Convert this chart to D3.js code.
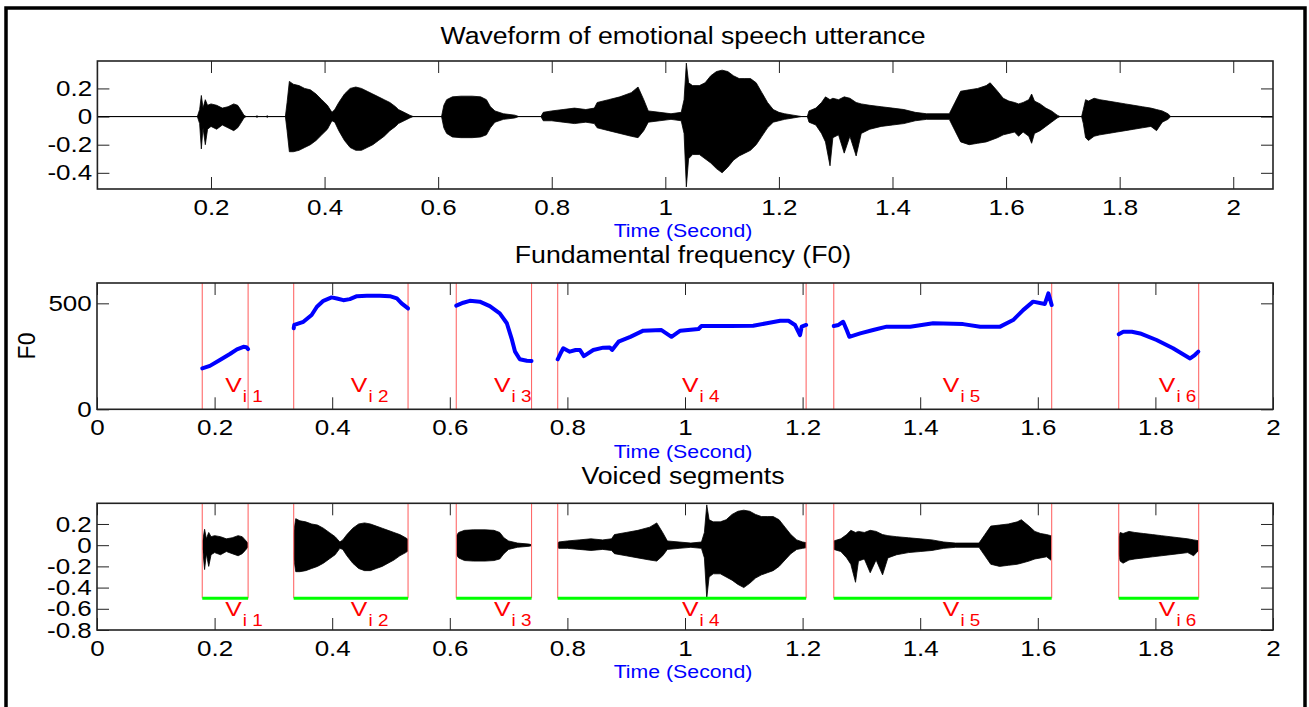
<!DOCTYPE html>
<html>
<head>
<meta charset="utf-8">
<script src="https://cdn.jsdelivr.net/npm/d3@7"></script>
<style>
body { margin: 0; background: #fff; }
svg { display: block; font-family: "Liberation Sans", Arial, sans-serif; }
</style>
</head>
<body>
<svg width="1309" height="707"></svg>
<script>
// voiced segment boundaries (seconds)
var segStart = [0.179, 0.3345, 0.611, 0.7835, 1.253, 1.7376]
var segEnd = [0.257, 0.529, 0.739, 1.206, 1.6236, 1.8736]
var segNames = ["1", "2", "3", "4", "5", "6"]

// F0 contour per segment: [time, Hz]
var f0Seg1 = [[0.179,193],[0.192,205],[0.209,233],[0.226,261],[0.238,283],[0.249,295],[0.254,293],[0.257,284]]
var f0Seg2 = [[0.3345,382],[0.3355,398],[0.351,413],[0.365,445],[0.374,484],[0.385,512],[0.399,528],[0.408,523],[0.419,515],[0.430,520],[0.442,534],[0.459,536],[0.481,536],[0.498,534],[0.510,523],[0.518,500],[0.529,476]]
var f0Seg3 = [[0.611,489],[0.623,503],[0.634,512],[0.651,508],[0.668,487],[0.685,453],[0.697,406],[0.705,335],[0.711,272],[0.719,236],[0.731,229],[0.739,228]]
var f0Seg4 = [[0.7835,236],[0.788,262],[0.793,288],[0.804,272],[0.814,280],[0.8214,280],[0.828,251],[0.844,280],[0.861,291],[0.872,292],[0.876,280],[0.887,319],[0.907,342],[0.929,371],[0.960,374],[0.977,342],[0.992,371],[1.023,379],[1.028,393],[1.077,393],[1.116,394],[1.139,406],[1.162,418],[1.176,418],[1.187,398],[1.1956,350],[1.1985,390],[1.206,398]]
var f0Seg5 = [[1.253,393],[1.261,398],[1.269,413],[1.275,374],[1.2795,342],[1.298,358],[1.320,374],[1.343,390],[1.383,390],[1.422,406],[1.473,402],[1.502,390],[1.536,390],[1.558,421],[1.575,468],[1.592,508],[1.612,497],[1.618,547],[1.6236,492]]
var f0Seg6 = [[1.7376,354],[1.7454,366],[1.760,366],[1.774,358],[1.802,327],[1.830,288],[1.859,240],[1.867,256],[1.873,272]]

// waveform envelope: [time, upper, lower]
var waveEnvelope = [
  [0.000,0,0],[0.176,0,0],[0.180,0.05,-0.05],[0.183,0.15,-0.23],[0.186,0.06,-0.08],[0.190,0.12,-0.20],[0.194,0.08,-0.09],
  [0.200,0.09,-0.07],[0.210,0.08,-0.09],[0.220,0.06,-0.06],[0.230,0.07,-0.08],[0.240,0.09,-0.10],[0.247,0.08,-0.08],
  [0.252,0.05,-0.05],[0.258,0.01,-0.01],[0.262,0,0],[0.279,0,0],[0.281,0.006,-0.006],[0.283,0,0],[0.297,0,0],
  [0.299,0.006,-0.006],[0.301,0,0],[0.331,0,0],[0.334,0.10,-0.10],[0.338,0.25,-0.25],[0.345,0.23,-0.25],[0.355,0.22,-0.24],
  [0.365,0.20,-0.22],[0.375,0.19,-0.20],[0.385,0.16,-0.17],[0.395,0.12,-0.13],[0.405,0.08,-0.09],[0.413,0.03,-0.03],
  [0.418,0.05,-0.04],[0.425,0.10,-0.10],[0.435,0.16,-0.17],[0.445,0.20,-0.22],[0.455,0.21,-0.24],[0.465,0.20,-0.24],
  [0.475,0.18,-0.22],[0.485,0.16,-0.20],[0.495,0.14,-0.17],[0.505,0.12,-0.14],[0.515,0.10,-0.10],[0.525,0.07,-0.07],
  [0.530,0.05,-0.05],[0.540,0.03,-0.03],[0.550,0.01,-0.01],[0.556,0,0],[0.606,0,0],[0.610,0.08,-0.08],[0.615,0.12,-0.12],
  [0.625,0.14,-0.145],[0.640,0.145,-0.15],[0.660,0.145,-0.15],[0.675,0.14,-0.145],[0.685,0.12,-0.13],[0.692,0.07,-0.08],
  [0.700,0.04,-0.04],[0.715,0.02,-0.02],[0.735,0.01,-0.01],[0.742,0,0],[0.781,0,0],[0.785,0.03,-0.03],[0.800,0.04,-0.03],
  [0.820,0.05,-0.04],[0.840,0.06,-0.05],[0.860,0.05,-0.04],[0.875,0.06,-0.05],[0.880,0.10,-0.08],[0.900,0.12,-0.10],
  [0.920,0.14,-0.12],[0.940,0.17,-0.14],[0.952,0.21,-0.15],[0.962,0.12,-0.10],[0.970,0.04,-0.04],[0.990,0.03,-0.03],
  [1.010,0.02,-0.02],[1.028,0.03,-0.03],[1.033,0.12,-0.12],[1.037,0.38,-0.50],[1.041,0.24,-0.30],[1.048,0.22,-0.27],
  [1.060,0.22,-0.27],[1.070,0.24,-0.30],[1.080,0.29,-0.33],[1.090,0.32,-0.37],[1.100,0.33,-0.40],[1.110,0.32,-0.36],
  [1.120,0.29,-0.31],[1.130,0.27,-0.28],[1.140,0.27,-0.26],[1.150,0.27,-0.24],[1.160,0.24,-0.20],[1.170,0.17,-0.14],
  [1.180,0.10,-0.08],[1.190,0.05,-0.04],[1.200,0.03,-0.03],[1.210,0.02,-0.02],[1.225,0.01,-0.01],[1.240,0,0],[1.250,0,0],
  [1.253,0.04,-0.04],[1.265,0.06,-0.06],[1.275,0.10,-0.12],[1.282,0.14,-0.18],[1.290,0.12,-0.35],[1.295,0.13,-0.15],
  [1.305,0.12,-0.13],[1.315,0.14,-0.26],[1.325,0.13,-0.14],[1.336,0.10,-0.28],[1.345,0.09,-0.12],[1.360,0.08,-0.09],
  [1.380,0.07,-0.07],[1.400,0.06,-0.06],[1.420,0.05,-0.05],[1.440,0.03,-0.03],[1.460,0.02,-0.02],[1.500,0.02,-0.02],
  [1.510,0.10,-0.10],[1.520,0.18,-0.18],[1.535,0.19,-0.20],[1.550,0.20,-0.19],[1.565,0.22,-0.18],[1.572,0.24,-0.17],
  [1.585,0.18,-0.15],[1.595,0.13,-0.13],[1.605,0.11,-0.12],[1.615,0.10,-0.11],[1.622,0.09,-0.14],[1.630,0.10,-0.11],
  [1.640,0.12,-0.14],[1.645,0.16,-0.19],[1.650,0.11,-0.12],[1.660,0.09,-0.10],[1.670,0.06,-0.07],[1.680,0.04,-0.04],
  [1.690,0.01,-0.01],[1.695,0,0],[1.733,0,0],[1.736,0.05,-0.05],[1.740,0.12,-0.15],[1.745,0.11,-0.17],[1.755,0.13,-0.14],
  [1.765,0.12,-0.13],[1.780,0.11,-0.12],[1.795,0.10,-0.11],[1.810,0.09,-0.10],[1.825,0.08,-0.09],[1.840,0.07,-0.08],
  [1.855,0.06,-0.07],[1.865,0.05,-0.10],[1.875,0.04,-0.04],[1.885,0.02,-0.02],[1.890,0,0],[2.070,0,0]
]

var waveXTicks = [0.2, 0.4, 0.6, 0.8, 1, 1.2, 1.4, 1.6, 1.8, 2]
var waveYTicks = [-0.4, -0.2, 0, 0.2]
var timeTicks = [0, 0.2, 0.4, 0.6, 0.8, 1, 1.2, 1.4, 1.6, 1.8, 2]
var f0YTicks = [0, 500]
var segYTicks = [-0.8, -0.6, -0.4, -0.2, 0, 0.2]

var svg = d3.select("svg")
var FONT = '"Liberation Sans", Arial, sans-serif'
var SX = 1.18

svg.append("rect").attr("x", 6).attr("y", 8).attr("width", 1299).attr("height", 730)
  .attr("fill", "none").attr("stroke", "#000").attr("stroke-width", 3.5)

var x1 = d3.scaleLinear().domain([0, 2.07]).range([97.4, 1273])
var y1 = d3.scaleLinear().domain([-0.515, 0.395]).range([189, 61])
var x2 = d3.scaleLinear().domain([0, 2]).range([97, 1273])
var y2 = d3.scaleLinear().domain([0, 596]).range([409.3, 283])
var x3 = d3.scaleLinear().domain([0, 2]).range([97, 1273])
var y3 = d3.scaleLinear().domain([-0.8, 0.395]).range([630, 503.3])

function drawAxes(g, xs, ys, xTicks, yTicks) {
  var fmt = d => String(d)
  var xr = xs.range(), yr = ys.range()
  g.append("g").attr("transform", `translate(0,${yr[0]})`)
    .call(d3.axisBottom(xs).tickValues(xTicks).tickSizeInner(-12).tickSizeOuter(0).tickPadding(10.5).tickFormat(fmt))
  g.append("g").attr("transform", `translate(0,${yr[1]})`)
    .call(d3.axisTop(xs).tickValues(xTicks).tickSizeInner(-12).tickSizeOuter(0).tickFormat(""))
  g.append("g").attr("transform", `translate(${xr[0]},0)`)
    .call(d3.axisLeft(ys).tickValues(yTicks).tickSizeInner(-12).tickSizeOuter(0).tickPadding(4.5).tickFormat(fmt))
  g.append("g").attr("transform", `translate(${xr[1]},0)`)
    .call(d3.axisRight(ys).tickValues(yTicks).tickSizeInner(-12).tickSizeOuter(0).tickFormat(""))
  g.selectAll(".domain").remove()
  g.selectAll(".tick line").attr("stroke", "#222").attr("stroke-width", 1)
  g.selectAll(".tick text").attr("font-size", 22).attr("font-family", FONT).attr("fill", "#000")
    .attr("transform", `scale(${SX},1)`)
}

function drawBox(g, xs, ys) {
  var xr = xs.range(), yr = ys.range()
  g.append("rect").attr("x", xr[0]).attr("y", yr[1]).attr("width", xr[1] - xr[0]).attr("height", yr[0] - yr[1])
    .attr("fill", "none").attr("stroke", "#222").attr("stroke-width", 1.6)
}

function label(txt, x, y, size, color, sx) {
  svg.append("text").attr("transform", `translate(${x},${y}) scale(${sx},1)`)
    .attr("text-anchor", "middle").attr("font-size", size).attr("font-family", FONT)
    .attr("fill", color).text(txt)
}

function segLabel(g, x, y, name) {
  var t = g.append("text").attr("transform", `translate(${x},${y}) scale(${SX},1)`)
    .attr("font-family", FONT).attr("fill", "#ff0000").attr("font-size", 21)
  t.append("tspan").text("V")
  t.append("tspan").attr("font-size", 16).attr("dy", 10).attr("dx", 1).text("i " + name)
}

var areaGen = (xs, ys) => d3.area().x(d => xs(d[0])).y0(d => ys(d[2])).y1(d => ys(d[1]))

// panel 1: waveform
var g1 = svg.append("g")
drawAxes(g1, x1, y1, waveXTicks, waveYTicks)
g1.append("path").datum([0, 2.07]).attr("d", d3.line().x(d => x1(d)).y(() => y1(0)))
  .attr("stroke", "#333").attr("stroke-width", 1).attr("fill", "none")
g1.append("path").datum(waveEnvelope).attr("d", areaGen(x1, y1))
  .attr("fill", "#000").attr("stroke", "#000").attr("stroke-width", 0.8)
drawBox(g1, x1, y1)
label("Waveform of emotional speech utterance", 683, 44, 23, "#000", 1.16)
label("Time (Second)", 683, 237, 19, "#0000ff", 1.12)

// panel 2: F0 contours
var g2 = svg.append("g")
drawAxes(g2, x2, y2, timeTicks, f0YTicks)
var bounds = segStart.concat(segEnd)
g2.selectAll(".bound").data(bounds).enter().append("line")
  .attr("x1", d => x2(d)).attr("x2", d => x2(d))
  .attr("y1", y2.range()[1]).attr("y2", y2.range()[0])
  .attr("stroke", "#ff6a6a").attr("stroke-width", 1.1)
g2.selectAll(".f0").data([f0Seg1, f0Seg2, f0Seg3, f0Seg4, f0Seg5, f0Seg6]).enter().append("path")
  .attr("d", d3.line().x(d => x2(d[0])).y(d => y2(d[1])))
  .attr("fill", "none").attr("stroke", "#0000ff").attr("stroke-width", 4)
  .attr("stroke-linejoin", "round").attr("stroke-linecap", "round")
segNames.forEach((n, i) => segLabel(g2, x2((segStart[i] + segEnd[i]) / 2), y2(82), n))
drawBox(g2, x2, y2)
label("Fundamental frequency (F0)", 683, 263, 23, "#000", 1.16)
label("Time (Second)", 683, 458, 19, "#0000ff", 1.12)
svg.append("text").attr("transform", "translate(35,346) rotate(-90)").attr("text-anchor", "middle")
  .attr("font-size", 23).attr("font-family", FONT).text("F0")

// panel 3: voiced segments
var g3 = svg.append("g")
drawAxes(g3, x3, y3, timeTicks, segYTicks)
var clip = svg.append("clipPath").attr("id", "segClip")
clip.selectAll("rect").data(segStart).enter().append("rect")
  .attr("x", (d, i) => x3(d)).attr("width", (d, i) => x3(segEnd[i]) - x3(d))
  .attr("y", y3.range()[1]).attr("height", y3.range()[0] - y3.range()[1])
g3.append("path").datum(waveEnvelope).attr("d", areaGen(x3, y3)).attr("clip-path", "url(#segClip)")
  .attr("fill", "#000").attr("stroke", "#000").attr("stroke-width", 0.8)
g3.selectAll(".bound").data(bounds).enter().append("line")
  .attr("x1", d => x3(d)).attr("x2", d => x3(d))
  .attr("y1", y3.range()[1]).attr("y2", y3(-0.5))
  .attr("stroke", "#ff6a6a").attr("stroke-width", 1.1)
g3.selectAll(".seg").data(segStart).enter().append("line")
  .attr("x1", d => x3(d)).attr("x2", (d, i) => x3(segEnd[i]))
  .attr("y1", y3(-0.5)).attr("y2", y3(-0.5))
  .attr("stroke", "#00ff00").attr("stroke-width", 3)
segNames.forEach((n, i) => segLabel(g3, x3((segStart[i] + segEnd[i]) / 2), y3(-0.667), n))
drawBox(g3, x3, y3)
label("Voiced segments", 683, 484, 23, "#000", 1.16)
label("Time (Second)", 683, 678, 19, "#0000ff", 1.12)
</script>
</body>
</html>
